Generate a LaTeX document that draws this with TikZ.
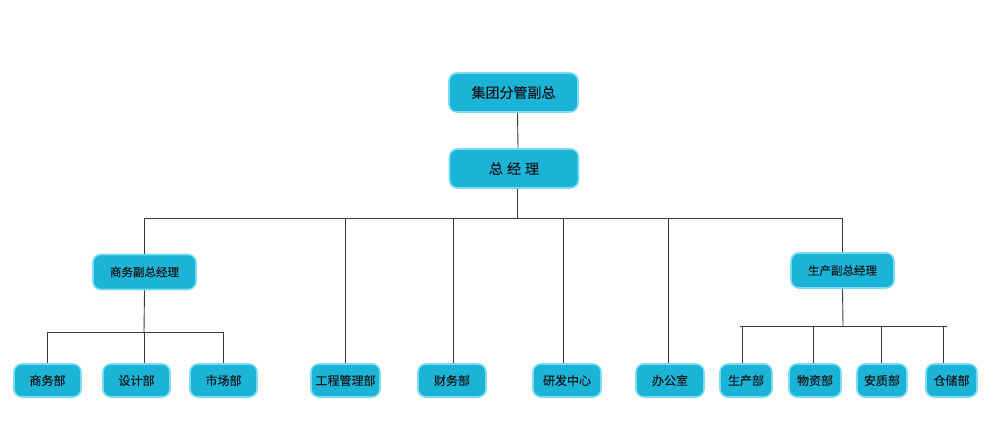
\documentclass[tikz,border=0pt]{standalone}
\usepackage{fontspec}
\newfontfamily\cjk[FakeBold=0.35]{Noto Sans CJK SC}
\definecolor{boxfill}{RGB}{27,180,215}
\definecolor{boxedge}{RGB}{120,220,242}
\definecolor{linecol}{RGB}{50,60,68}
\definecolor{txt}{RGB}{20,25,30}
\begin{document}
\begin{tikzpicture}[x=1pt,y=-1pt,
  box/.style={draw=boxedge, line width=1.6pt, fill=boxfill, rounded corners=8pt,
     inner sep=0pt, text=txt, font=\cjk\fontsize{12}{14}\selectfont},
  bigbox/.style={box, minimum width=129pt, minimum height=39pt, font=\cjk\fontsize{14}{16}\selectfont},
  midbox/.style={box, minimum width=103pt, minimum height=35pt, font=\cjk\fontsize{11.5}{14}\selectfont},
  smallbox/.style={box, minimum height=33pt},
  conn/.style={draw=linecol, line width=0.9pt}]
\useasboundingbox (0,0) rectangle (1000,439);
% top
\node[bigbox] (jt) at (513.5,92.5) {集团分管副总};
\node[bigbox] (zjl) at (514,168.5) {总\hspace{4pt}经\hspace{4pt}理};
% vice GMs
\node[midbox] (sw) at (144.5,272) {商务副总经理};
\node[midbox] (sc) at (842.5,270.5) {生产副总经理};
% bottom row
\node[smallbox, minimum width=67pt] (swb) at (47.5,380.5) {商务部};
\node[smallbox, minimum width=67pt] (sjb) at (136.5,380.5) {设计部};
\node[smallbox, minimum width=67pt] (scb) at (223.5,380.5) {市场部};
\node[smallbox, minimum width=69pt] (gc) at (345.5,380.5) {工程管理部};
\node[smallbox, minimum width=68pt] (cw) at (452,380.5) {财务部};
\node[smallbox, minimum width=68pt] (yf) at (567,380.5) {研发中心};
\node[smallbox, minimum width=68pt] (bgs) at (670,380.5) {办公室};
\node[smallbox, minimum width=52pt] (scbu) at (746,380.5) {生产部};
\node[smallbox, minimum width=52pt] (wz) at (815,380.5) {物资部};
\node[smallbox, minimum width=50pt] (aq) at (882,380.5) {安质部};
\node[smallbox, minimum width=51pt] (cc) at (951.5,380.5) {仓储部};
% junctions
\coordinate (bus) at (517,218);
\coordinate (lbus) at (144,332);
\coordinate (rbus) at (843,326);
% connectors
\draw[conn] ([xshift=4pt]jt.south) -- ([xshift=4pt]zjl.north);
\draw[conn] ([xshift=3pt]zjl.south) -- (bus);
\draw[conn] (sw.north) -- (sw.north |- bus) -- (sc.north |- bus) -- (sc.north);
\draw[conn] (gc.north) -- (gc.north |- bus);
\draw[conn] ([xshift=1pt]cw.north) -- ([xshift=1pt]cw.north |- bus);
\draw[conn] ([xshift=-4pt]yf.north) -- ([xshift=-4pt]yf.north |- bus);
\draw[conn] ([xshift=-2pt]bgs.north) -- ([xshift=-2pt]bgs.north |- bus);
% left group
\draw[conn] (sw.south) -- (lbus);
\draw[conn] (swb.north) -- (swb.north |- lbus) -- (scb.north |- lbus) -- (scb.north);
\draw[conn] ([xshift=7.5pt]sjb.north) -- ([xshift=7.5pt]sjb.north |- lbus);
% right group
\draw[conn] (sc.south) -- (rbus);
\draw[conn] ([xshift=-6pt]scbu.north |- rbus) -- ([xshift=-4.5pt]cc.north |- rbus);
\draw[conn] ([xshift=-4pt]scbu.north) -- ([xshift=-4pt]scbu.north |- rbus);
\draw[conn] ([xshift=-2pt]wz.north) -- ([xshift=-2pt]wz.north |- rbus);
\draw[conn] ([xshift=-1pt]aq.north) -- ([xshift=-1pt]aq.north |- rbus);
\draw[conn] ([xshift=-8.5pt]cc.north) -- ([xshift=-8.5pt]cc.north |- rbus);
\end{tikzpicture}
\end{document}
